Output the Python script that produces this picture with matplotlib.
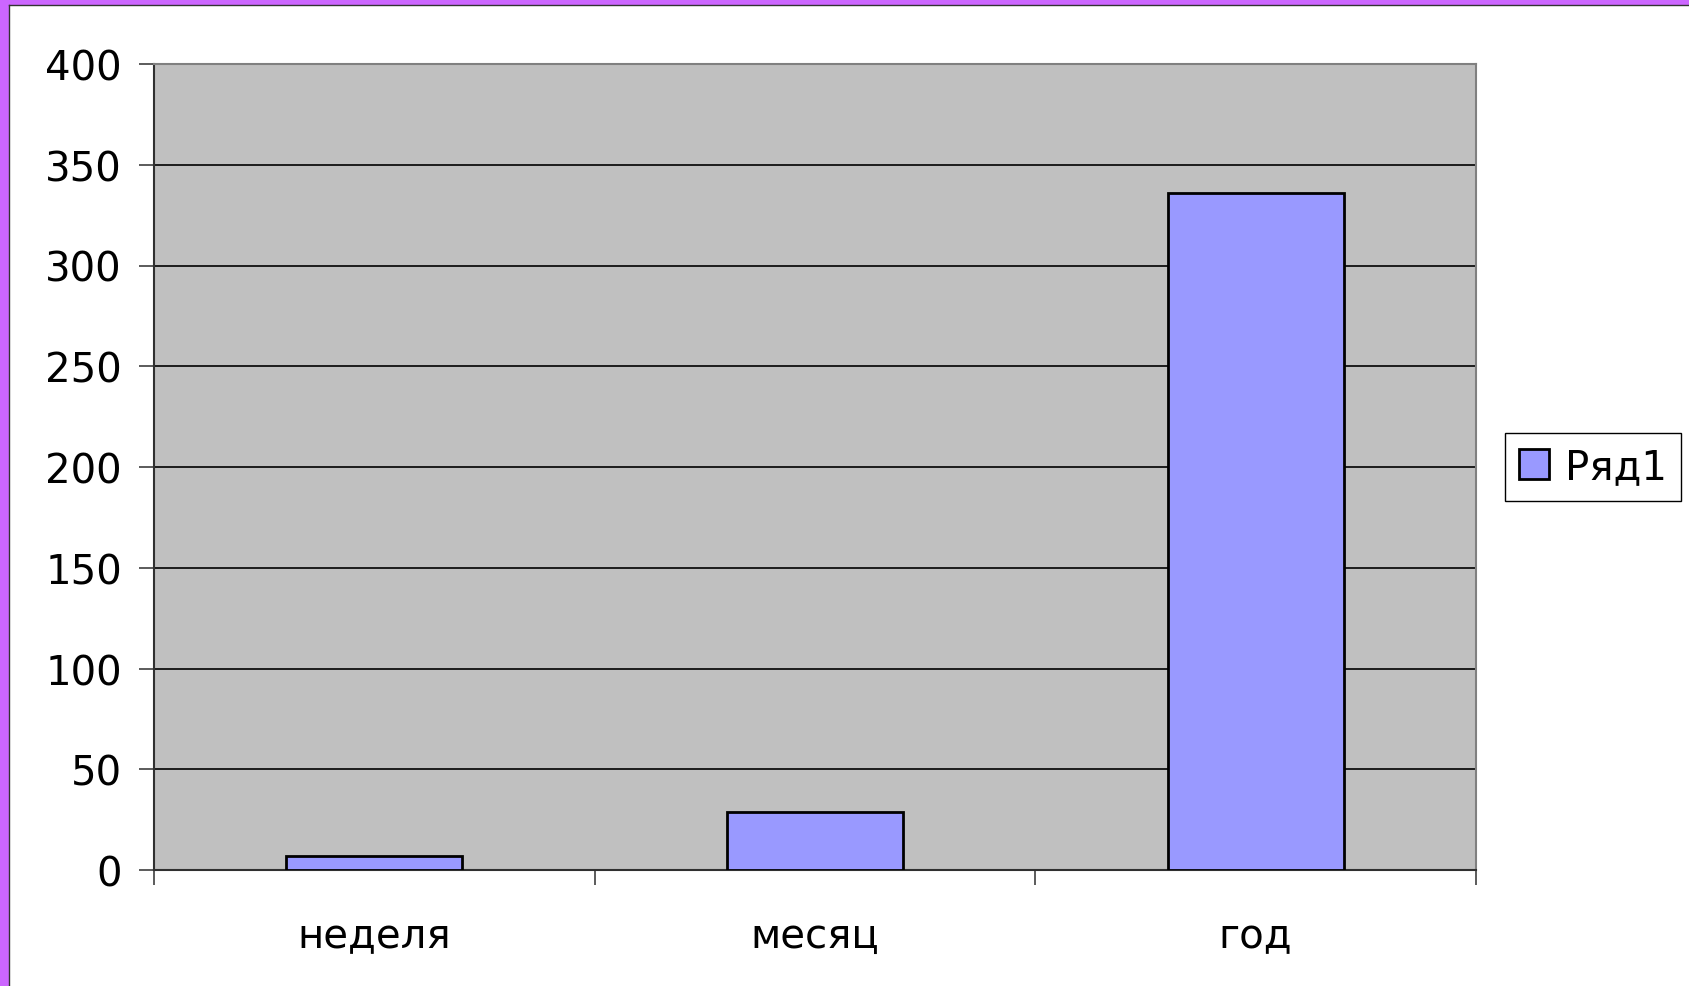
import matplotlib.pyplot as plt
from matplotlib.patches import Rectangle

categories = ['неделя', 'месяц', 'год']
values = [7, 29, 336]
series_name = 'Ряд1'
y_ticks = [0, 50, 100, 150, 200, 250, 300, 350, 400]

W, H = 1689, 987
fig = plt.figure(figsize=(W / 100, H / 100), dpi=100)
fig.patch.set_facecolor('white')

# plot area in pixels: left 154, right 1476, top 65, bottom 871
ax = fig.add_axes([154 / W, 1 - 871 / H, (1476 - 154) / W, (871 - 65) / H])
ax.set_facecolor('#C0C0C0')

x = [i + 0.5 for i in range(len(categories))]
bars = ax.bar(x, values, width=0.4, color='#9999FF', edgecolor='black',
              linewidth=2, label=series_name, zorder=3)

ax.set_xlim(0, len(categories))
ax.set_ylim(0, 400)
ax.set_yticks(y_ticks)
ax.set_yticklabels([str(v) for v in y_ticks], fontsize=29)
ax.yaxis.grid(True, color='black', linewidth=1.2, zorder=1)
ax.set_axisbelow(True)

# ticks at category boundaries, labels at centres
ax.set_xticks(range(len(categories) + 1))
ax.set_xticklabels([''] * (len(categories) + 1))
ax.set_xticks(x, minor=True)
ax.set_xticklabels(categories, minor=True, fontsize=29)
ax.tick_params(axis='x', which='major', direction='out', length=11, width=1.2, color='#404040')
ax.tick_params(axis='x', which='minor', length=0, pad=33)
ax.tick_params(axis='y', direction='out', length=11, width=1.2, color='#404040', pad=12)

for side in ['top', 'right']:
    ax.spines[side].set_color('#808080')
    ax.spines[side].set_linewidth(1.5)
for side in ['left', 'bottom']:
    ax.spines[side].set_color('#303030')
    ax.spines[side].set_linewidth(1.5)

fig.legend(handles=[bars], labels=[series_name], loc='center',
           bbox_to_anchor=(1593 / W, 1 - 468 / H), fontsize=29,
           fancybox=False, edgecolor='black', framealpha=1,
           handlelength=0.75, handleheight=0.75, handletextpad=0.4,
           borderpad=0.35, borderaxespad=0)

# purple frame on left and top
fig.patches.append(Rectangle((0, 0), 9 / W, 1, transform=fig.transFigure,
                             facecolor='#CC66FF', edgecolor='none'))
fig.patches.append(Rectangle((0, 1 - 6 / H), 1, 6 / H, transform=fig.transFigure,
                             facecolor='#CC66FF', edgecolor='none'))
fig.lines.append(plt.Line2D([9 / W, 9 / W], [0, 1 - 6 / H], transform=fig.transFigure,
                            color='#333333', linewidth=1))
fig.lines.append(plt.Line2D([9 / W, 1], [1 - 6 / H, 1 - 6 / H], transform=fig.transFigure,
                            color='#333333', linewidth=1))

fig.savefig('out.png', dpi=100)
